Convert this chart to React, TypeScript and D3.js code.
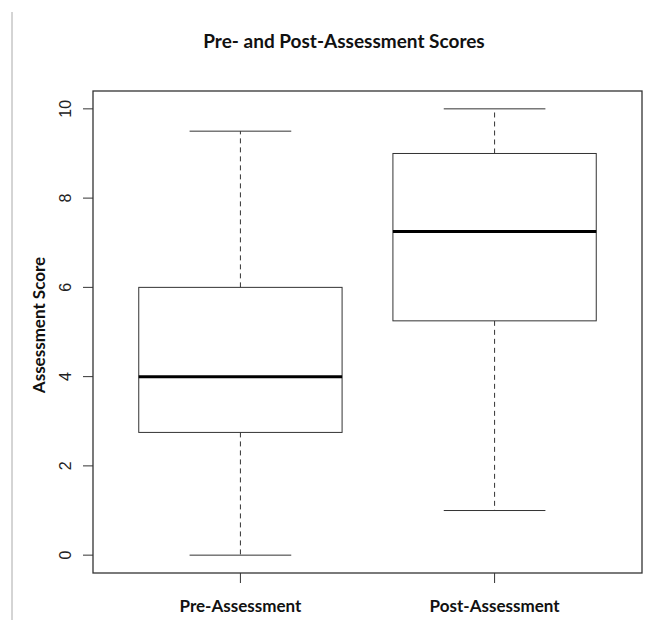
import React from "react";
import * as d3 from "d3";

const groups = ["Pre-Assessment", "Post-Assessment"];
const lowWhisker = [0, 1];
const q1 = [2.75, 5.25];
const median = [4, 7.25];
const q3 = [6, 9];
const highWhisker = [9.5, 10];
const yTicks = [0, 2, 4, 6, 8, 10];

const W = 650;
const H = 620;
const left = 93;
const right = 642;
const top = 91;
const bottom = 573;
const ink = "#333";
const labelFont = "Lato, 'Open Sans', sans-serif";

export default function App() {
  // R style: x from 0.5 to n+0.5, widened by 4%
  const x = d3.scaleLinear().domain([0.42, 2.58]).range([left, right]);
  const y = d3.scaleLinear().domain([-0.4, 10.4]).range([bottom, top]);
  const boxHalf = x(1.4) - x(1);
  const capHalf = x(1.2) - x(1);

  return (
    <svg width={W} height={H} style={{ position: "absolute", left: 0, top: 0 }}>
      <rect width={W} height={H} fill="#fff" />
      <line x1={12} x2={12} y1={12} y2={H} stroke="#aaa" strokeWidth={1} />
      <text
        x={344}
        y={48}
        textAnchor="middle"
        fontFamily={labelFont}
        fontWeight="bold"
        fontSize={19}
        fill="#111"
      >
        Pre- and Post-Assessment Scores
      </text>
      <rect x={left} y={top} width={right - left} height={bottom - top} fill="none" stroke={ink} strokeWidth={1.3} />

      {yTicks.map((t) => (
        <g key={t}>
          <line x1={left - 10} x2={left} y1={y(t)} y2={y(t)} stroke={ink} />
          <text
            transform={`translate(65,${y(t)}) rotate(-90)`}
            textAnchor="middle"
            dy="0.35em"
            fontFamily="'Liberation Sans', Arial, sans-serif"
            fontSize={16}
            fill="#222"
          >
            {t}
          </text>
        </g>
      ))}
      <text
        transform={`translate(45,325) rotate(-90)`}
        textAnchor="middle"
        fontFamily={labelFont}
        fontWeight="bold"
        fontSize={17}
        fill="#111"
      >
        Assessment Score
      </text>

      {groups.map((g, i) => {
        const cx = x(i + 1);
        return (
          <g key={g}>
            <line x1={cx} x2={cx} y1={bottom} y2={bottom + 10} stroke={ink} />
            <text
              x={cx}
              y={612}
              textAnchor="middle"
              fontFamily={labelFont}
              fontWeight="bold"
              fontSize={17}
              fill="#111"
            >
              {g}
            </text>
            <line x1={cx} x2={cx} y1={y(q3[i])} y2={y(highWhisker[i])} stroke={ink} strokeDasharray="5,4" />
            <line x1={cx} x2={cx} y1={y(q1[i])} y2={y(lowWhisker[i])} stroke={ink} strokeDasharray="5,4" />
            <line x1={cx - capHalf} x2={cx + capHalf} y1={y(highWhisker[i])} y2={y(highWhisker[i])} stroke={ink} />
            <line x1={cx - capHalf} x2={cx + capHalf} y1={y(lowWhisker[i])} y2={y(lowWhisker[i])} stroke={ink} />
            <rect
              x={cx - boxHalf}
              y={y(q3[i])}
              width={2 * boxHalf}
              height={y(q1[i]) - y(q3[i])}
              fill="#fff"
              stroke={ink}
            />
            <line x1={cx - boxHalf} x2={cx + boxHalf} y1={y(median[i])} y2={y(median[i])} stroke="#000" strokeWidth={3} />
          </g>
        );
      })}
    </svg>
  );
}
